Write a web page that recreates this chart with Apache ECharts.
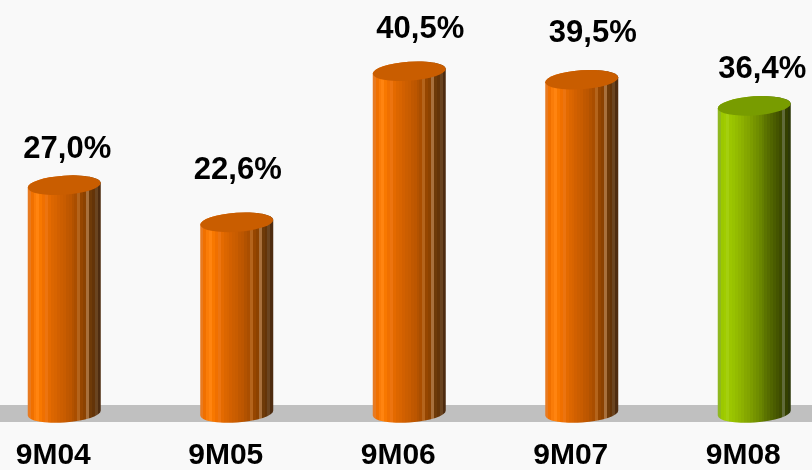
<!DOCTYPE html>
<html>
<head>
<meta charset="utf-8">
<style>html,body{margin:0;padding:0;background:#f9f9f9}#chart{width:812px;height:470px}</style>
<script src="https://cdn.jsdelivr.net/npm/echarts@6/dist/echarts.min.js"></script>
</head>
<body>
<div id="chart"></div>
<script>
const periods = ['9M04', '9M05', '9M06', '9M07', '9M08'];
const margins = [27.0, 22.6, 40.5, 39.5, 36.4];
const labelShiftX = [3, 1, 11, 11, 8];
const labelShiftY = [-36, -52, -42, -46, -36];

const orangeBody = ['#e87a20', '#f07000', '#fa7c08', '#ff8410', '#f87800', '#f07000', '#ec7410', '#e46a00', '#dc6600', '#d86400', '#d26000', '#cc5e00', '#c85c00', '#c05800', '#bc5600', '#b25200', '#aa4e00', '#b4641c', '#964600', '#8c4200', '#a8703c', '#6e3a08', '#643408', '#6a4420', '#4e2c10'];
const greenBody = ['#8fb820', '#9cc800', '#a0cc00', '#a4cf10', '#9cc600', '#98c200', '#94bc00', '#90b600', '#8cb000', '#86a800', '#82a400', '#7c9c00', '#769400', '#708e00', '#6a8600', '#647e00', '#5c7400', '#566c00', '#506400', '#4a5c00', '#445400', '#3e4c00', '#606a3a', '#344000', '#2c3808'];
const orangeTop = '#c95d00';
const greenTop = '#789c00';
const floorColor = '#c0c0c0';

const halfWidth = 36.5;
const ellipseRy = 9.5;
const tiltDy = 2.5;
const tiltDeg = -4;

function stripes(colors) {
  return {
    type: 'linear', x: 0, y: 0, x2: 1, y2: 0,
    colorStops: colors.flatMap((c, i) => [
      {offset: i / colors.length, color: c},
      {offset: (i + 1) / colors.length, color: c}
    ])
  };
}

const lastIdx = periods.length - 1;

function renderCylinder(params, api) {
  const i = api.value(0);
  const top = api.coord([i, api.value(1)]);
  const base = api.coord([i, 0]);
  const cx = top[0];
  const green = i === lastIdx;
  const lx = cx - halfWidth;
  const rx = cx + halfWidth;
  const arc = `${halfWidth} ${ellipseRy} ${tiltDeg} 0`;
  const bodyPath = `M${lx} ${top[1] + tiltDy} A${arc} 1 ${rx} ${top[1] - tiltDy} ` +
    `L${rx} ${base[1] - tiltDy} A${arc} 1 ${lx} ${base[1] + tiltDy} Z`;
  const capPath = `M${lx} ${top[1] + tiltDy} A${arc} 1 ${rx} ${top[1] - tiltDy} ` +
    `A${arc} 1 ${lx} ${top[1] + tiltDy} Z`;
  return {
    type: 'group',
    children: [
      {
        type: 'path',
        shape: {pathData: bodyPath},
        style: {fill: stripes(green ? greenBody : orangeBody)}
      },
      {
        type: 'path',
        shape: {pathData: capPath},
        style: {fill: green ? greenTop : orangeTop}
      },
      {
        type: 'text',
        style: {
          x: cx + labelShiftX[i],
          y: top[1] + labelShiftY[i],
          text: margins[i].toFixed(1).replace('.', ',') + '%',
          fill: '#000',
          font: 'bold 31px "Liberation Sans"',
          align: 'center',
          verticalAlign: 'middle'
        }
      }
    ]
  };
}

const myChart = echarts.init(document.getElementById('chart'));
myChart.setOption({
  animation: false,
  backgroundColor: '#f9f9f9',
  textStyle: {fontFamily: 'Liberation Sans'},
  graphic: [{
    type: 'rect', z: 0, silent: true,
    shape: {x: 0, y: 405, width: 812, height: 17},
    style: {fill: floorColor}
  }],
  grid: {left: -22, top: 8, width: 862.5, height: 405, outerBoundsMode: 'none'},
  xAxis: {
    type: 'category',
    data: periods,
    axisLine: {show: false},
    axisTick: {show: false},
    axisLabel: {
      color: '#000',
      fontSize: 30,
      fontWeight: 'bold',
      margin: 28,
      padding: [0, 22, 0, 0]
    }
  },
  yAxis: {type: 'value', min: 0, max: 48, show: false},
  series: [{
    type: 'custom',
    z: 3,
    clip: false,
    renderItem: renderCylinder,
    encode: {x: 0, y: 1},
    data: margins.map((v, i) => [i, v])
  }]
});
</script>
</body>
</html>
